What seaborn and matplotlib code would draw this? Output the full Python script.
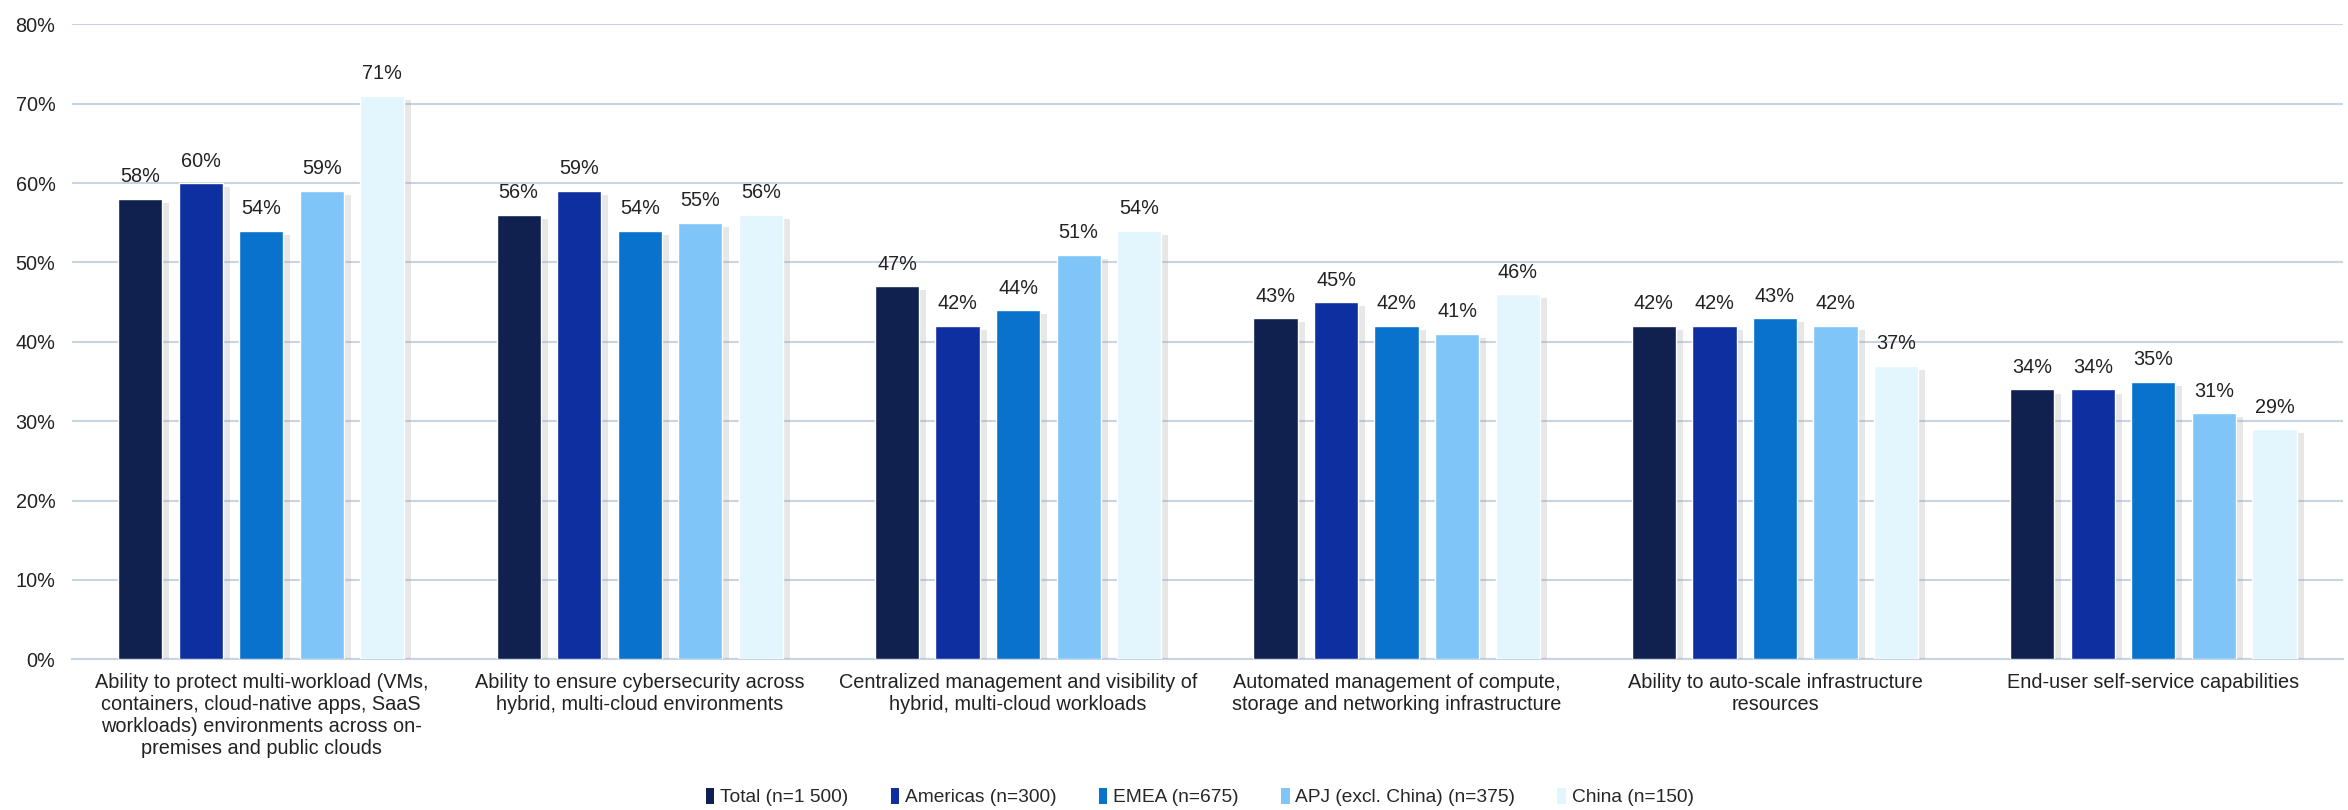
import matplotlib
matplotlib.use("Agg")
import matplotlib.pyplot as plt
import matplotlib.patheffects as pe
from matplotlib.patches import Patch
from matplotlib.ticker import PercentFormatter
import pandas as pd
import seaborn as sns

# categories (x axis) and series
categories = [
    "Ability to protect multi-workload (VMs,\ncontainers, cloud-native apps, SaaS\nworkloads) environments across on-\npremises and public clouds",
    "Ability to ensure cybersecurity across\nhybrid, multi-cloud environments",
    "Centralized management and visibility of\nhybrid, multi-cloud workloads",
    "Automated management of compute,\nstorage and networking infrastructure",
    "Ability to auto-scale infrastructure\nresources",
    "End-user self-service capabilities",
]
series = ["Total (n=1 500)", "Americas (n=300)", "EMEA (n=675)",
          "APJ (excl. China) (n=375)", "China (n=150)"]

total = [58, 56, 47, 43, 42, 34]
americas = [60, 59, 42, 45, 42, 34]
emea = [54, 54, 44, 42, 43, 35]
apj = [59, 55, 51, 41, 42, 31]
china = [71, 56, 54, 46, 37, 29]

colors = ["#10204F", "#0E2FA0", "#0872CC", "#80C5F8", "#E3F5FD"]

rows = []
for name, vals in zip(series, [total, americas, emea, apj, china]):
    for cat, v in zip(categories, vals):
        rows.append({"category": cat, "region": name, "value": v})
df = pd.DataFrame(rows)

sns.set_style("white")
plt.rcParams["font.family"] = ["Liberation Sans", "DejaVu Sans"]

fig = plt.figure(figsize=(23.48, 8.10), dpi=100)
ax = fig.add_axes([0.0307, 0.186, 0.967, 0.784])

sns.barplot(data=df, x="category", y="value", hue="region",
            palette=colors, saturation=1, width=0.8, gap=0.27, ax=ax,
            edgecolor="white", linewidth=1.0, legend=False, zorder=3)

# soft drop shadow like the original
for bar in ax.patches:
    bar.set_path_effects([pe.SimplePatchShadow(offset=(5, -3), shadow_rgbFace="#a0a0a0", alpha=0.25),
                          pe.Normal()])

for cont in ax.containers:
    ax.bar_label(cont, labels=[f"{int(v)}%" for v in cont.datavalues],
                 padding=9, fontsize=14.3, color="#222222")

ax.set_ylim(0, 80)
ax.set_yticks(range(0, 81, 10))
ax.yaxis.set_major_formatter(PercentFormatter(decimals=0))
ax.set_xlim(-0.5, len(categories) - 0.5)
ax.grid(axis="y", color="#C8D4E3", linewidth=1.5, zorder=0)
ax.set_axisbelow(True)
for s in ["top", "right", "left"]:
    ax.spines[s].set_visible(False)
ax.spines["bottom"].set_color("#C8D4E3")
ax.spines["bottom"].set_linewidth(1.5)
ax.tick_params(axis="both", length=0, labelsize=14.3, colors="#222222")
ax.tick_params(axis="y", pad=12)
ax.tick_params(axis="x", pad=10)
ax.set_xlabel("")
ax.set_ylabel("")

handles = [Patch(facecolor=c, edgecolor="none") for c in colors]
fig.legend(handles, series, loc="center", bbox_to_anchor=(0.511, 0.016),
           ncol=5, frameon=False, fontsize=13.8, handlelength=0.45,
           handleheight=0.9, handletextpad=0.3, columnspacing=2.2)

fig.savefig("out.png", dpi=100, facecolor="white")
